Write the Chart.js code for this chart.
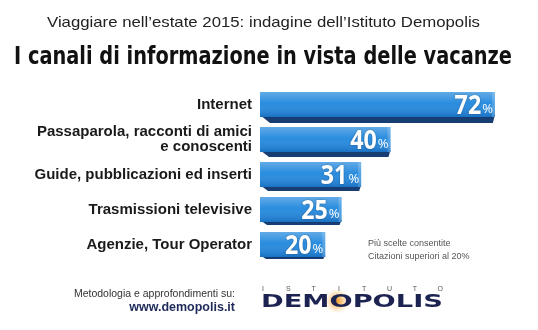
<!DOCTYPE html>
<html>
<head>
<meta charset="utf-8">
<script src="https://cdn.jsdelivr.net/npm/chart.js@4/dist/chart.umd.min.js"></script>
<style>
  html, body { margin: 0; padding: 0; background: #fff; }
  #wrap { position: relative; width: 538px; height: 330px; }
</style>
</head>
<body>
<div id="wrap"><canvas id="chart" width="538" height="330"></canvas></div>
<script>
// dati
const categories = [
  'Internet',
  ['Passaparola, racconti di amici', 'e conoscenti'],
  'Guide, pubblicazioni ed inserti',
  'Trasmissioni televisive',
  'Agenzie, Tour Operator'
];
const values = [72, 40, 31, 25, 20];
const subtitle = 'Viaggiare nell\u2019estate 2015: indagine dell\u2019Istituto Demopolis';
const title = 'I canali di informazione in vista delle vacanze';
const noteLines = ['Più scelte consentite', 'Citazioni superiori al 20%'];

// testo schiacciato/allargato a una larghezza fissa
function fitText(ctx, text, x, y, width, font) {
  ctx.save();
  ctx.font = font;
  const w = ctx.measureText(text).width;
  ctx.translate(x, y);
  ctx.scale(width / w, 1);
  ctx.textAlign = 'left';
  ctx.fillText(text, 0, 0);
  ctx.restore();
}

const bars3d = {
  id: 'bars3d',
  beforeDatasetsDraw(chart) {
    const ctx = chart.ctx;
    chart.getDatasetMeta(0).data.forEach((bar, i) => {
      const h = bar.height;
      const depth = 6 - i;
      ctx.save();
      ctx.fillStyle = '#183d73';
      ctx.beginPath();
      ctx.moveTo(bar.base, bar.y + h / 2 - 2);
      ctx.lineTo(bar.x, bar.y + h / 2 - 2);
      ctx.lineTo(bar.x - 2, bar.y + h / 2 + depth);
      ctx.lineTo(bar.base + depth + 4, bar.y + h / 2 + depth);
      ctx.closePath();
      ctx.fill();
      ctx.restore();
    });
  },
  afterDatasetsDraw(chart) {
    const ctx = chart.ctx;
    chart.getDatasetMeta(0).data.forEach((bar, i) => {
      const h = bar.height;
      const top = bar.y - h / 2;
      ctx.save();
      const g = ctx.createLinearGradient(0, top, 0, top + h);
      g.addColorStop(0, 'rgba(255,255,255,0.30)');
      g.addColorStop(0.45, 'rgba(255,255,255,0.05)');
      g.addColorStop(1, 'rgba(0,40,110,0.25)');
      ctx.fillStyle = g;
      ctx.fillRect(bar.base, top, bar.x - bar.base, h);
      // lato destro
      ctx.fillStyle = 'rgba(255,255,255,0.18)';
      ctx.fillRect(bar.x - 3, top, 3, h);
      // etichette
      ctx.fillStyle = '#fff';
      ctx.textBaseline = 'alphabetic';
      ctx.textAlign = 'right';
      ctx.font = '13px "Open Sans", sans-serif';
      const pw = ctx.measureText('%').width;
      ctx.fillText('%', bar.x - 2, bar.y + 8);
      ctx.shadowColor = 'rgba(0,0,0,0.35)';
      ctx.shadowBlur = 2;
      ctx.translate(bar.x - 3 - pw, bar.y + 9);
      ctx.scale(0.86, 1);
      ctx.font = 'bold 27px "Open Sans", sans-serif';
      ctx.fillText(String(values[i]), 0, 0);
      ctx.restore();
    });
  },
  afterDraw(chart) {
    const ctx = chart.ctx;
    ctx.save();
    ctx.textBaseline = 'alphabetic';
    ctx.fillStyle = '#222';
    fitText(ctx, subtitle, 47, 27, 433, '15px "Liberation Sans", Arial, sans-serif');
    ctx.fillStyle = '#111';
    fitText(ctx, title, 14, 64, 498, 'bold 25px "DejaVu Sans", sans-serif');

    // nota
    ctx.fillStyle = '#555';
    ctx.font = '9px "Liberation Sans", Arial, sans-serif';
    ctx.textAlign = 'left';
    ctx.fillText(noteLines[0], 368, 246);
    ctx.fillText(noteLines[1], 368, 259);

    // piede
    ctx.textAlign = 'right';
    ctx.fillStyle = '#333';
    ctx.font = '10.5px "Liberation Sans", Arial, sans-serif';
    ctx.fillText('Metodologia e approfondimenti su:', 235, 297);
    ctx.fillStyle = '#1e2a5a';
    ctx.font = 'bold 12.5px "Liberation Sans", Arial, sans-serif';
    ctx.fillText('www.demopolis.it', 235, 311);

    // logo
    ctx.fillStyle = '#1c2350';
    fitText(ctx, 'DEMOPOLIS', 261, 307, 182, 'bold 18px "DejaVu Sans", sans-serif');
    const glow = ctx.createRadialGradient(337, 301, 1, 337, 301, 13);
    glow.addColorStop(0, 'rgba(245,150,30,0.9)');
    glow.addColorStop(0.35, 'rgba(248,165,60,0.6)');
    glow.addColorStop(1, 'rgba(255,220,170,0)');
    ctx.globalCompositeOperation = 'destination-over';
    ctx.fillStyle = glow;
    ctx.fillRect(322, 286, 30, 30);
    ctx.globalCompositeOperation = 'source-over';
    ctx.fillStyle = '#555';
    ctx.font = '7px "Liberation Sans", Arial, sans-serif';
    ctx.textAlign = 'center';
    'ISTITUTO'.split('').forEach((c, k) => ctx.fillText(c, 263 + k * 25.3, 291));
    ctx.restore();
  }
};

new Chart(document.getElementById('chart'), {
  type: 'bar',
  data: {
    labels: categories,
    datasets: [{
      data: values,
      backgroundColor: '#1f87dd',
      borderWidth: 0,
      barPercentage: 0.72,
      categoryPercentage: 1
    }]
  },
  options: {
    indexAxis: 'y',
    responsive: false,
    animation: false,
    events: [],
    layout: { padding: { top: 87, bottom: 68, left: 0, right: 17 } },
    plugins: { legend: { display: false }, tooltip: { enabled: false } },
    scales: {
      x: { display: false, min: 0, max: 80 },
      y: {
        grid: { display: false },
        border: { display: false },
        afterFit(scale) { scale.width = 260; },
        ticks: {
          color: '#1a1a1a',
          padding: 0,
          font: { family: '"Liberation Sans", Arial, sans-serif', size: 15, weight: 'bold', lineHeight: 1.0 }
        }
      }
    }
  },
  plugins: [bars3d]
});
</script>
</body>
</html>
